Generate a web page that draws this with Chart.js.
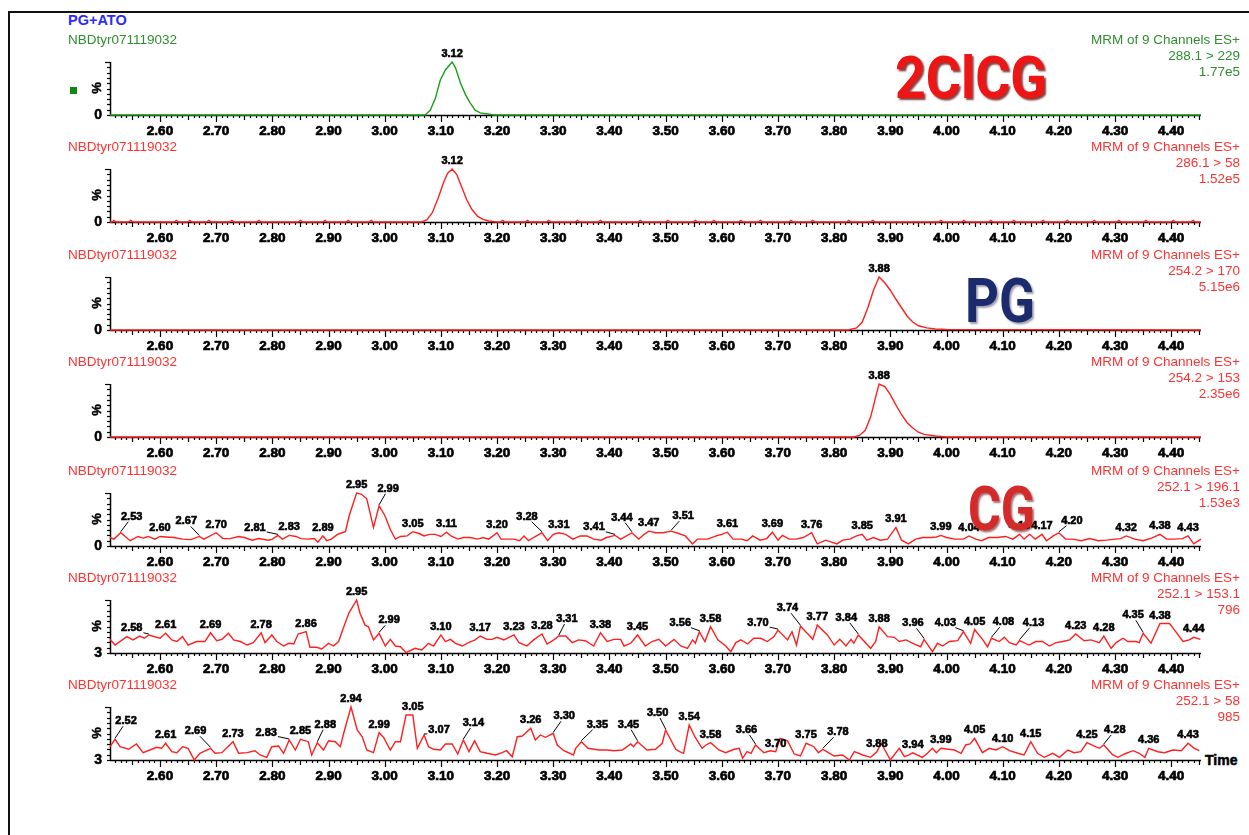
<!DOCTYPE html>
<html>
<head>
<meta charset="utf-8">
<title>PG+ATO MRM chromatograms</title>
<script src="https://cdn.jsdelivr.net/npm/chart.js@4.4.1/dist/chart.umd.min.js"></script>
<style>
  html,body{margin:0;padding:0;background:#fff;}
  #page{position:relative;width:1249px;height:835px;overflow:hidden;background:#fff;font-family:"Liberation Sans",Arial,sans-serif;}
  #frame{position:absolute;left:8px;top:11px;width:1300px;height:900px;border-left:2px solid #111;border-top:2px solid #111;}
  canvas.panel{position:absolute;left:0;}
  .txt{position:absolute;white-space:nowrap;font-size:13.5px;line-height:16px;z-index:5;}
  .rt{text-align:right;right:9px;}
  .big{position:absolute;font-family:Roboto,"Open Sans",sans-serif;font-weight:700;white-space:nowrap;line-height:1;transform-origin:left top;z-index:6;}
  #marker{position:absolute;left:70px;top:87px;width:7px;height:7px;background:#0f8a10;}
  #timeLbl{position:absolute;left:1205px;top:752px;font-family:"Liberation Sans",Arial,sans-serif;font-weight:bold;font-size:14px;line-height:16px;-webkit-text-stroke:0.5px #000;}
</style>
</head>
<body>
<div id="page">
  <div id="frame"></div>
  <div id="marker"></div>
  <div id="timeLbl">Time</div>
</div>
<script>
// ---- axis range and tick labels (retention time, min) ----
const axisMin = 2.511, axisMax = 4.453;
const tickValues = [2.6, 2.7, 2.8, 2.9, 3.0, 3.1, 3.2, 3.3, 3.4, 3.5, 3.6, 3.7, 3.8, 3.9, 4.0, 4.1, 4.2, 4.3, 4.4];

// ---- channel header texts ----
const sampleName = 'NBDtyr071119032';
const transitions = ['288.1 > 229', '286.1 > 58', '254.2 > 170', '254.2 > 153', '252.1 > 196.1', '252.1 > 153.1', '252.1 > 58'];
const intensities = ['1.77e5', '1.52e5', '5.15e6', '2.35e6', '1.53e3', '796', '985'];
const baseLabels = ['0', '0', '0', '0', '0', '3', '3'];
const yMins = [0, 0, 0, 0, 0, 3, 3];

// ---- trace 1 : 288.1 > 229 ----
const time1 = [2.511, 3.060, 3.072, 3.081, 3.090, 3.099, 3.108, 3.120, 3.126, 3.135, 3.144, 3.152, 3.161, 3.170, 3.183, 3.195, 4.453];
const inten1 = [0, 0, 0, 9, 31, 66, 85, 100, 89, 60, 38, 23, 9, 4, 2, 0, 0];
const peaks1 = ['3.12'];

// ---- trace 2 : 286.1 > 58 (main peak plus small baseline spikes) ----
const time2 = [
  2.511, 2.514, 2.518, 2.522, 2.544, 2.548, 2.552, 2.625, 2.629, 2.633,
  2.649, 2.653, 2.657, 2.683, 2.687, 2.691, 2.724, 2.728, 2.732, 2.772,
  2.776, 2.780, 2.846, 2.850, 2.854, 2.890, 2.894, 2.898, 2.931, 2.935,
  2.939, 2.972, 2.976, 2.980,
  3.065, 3.075, 3.085, 3.095, 3.105, 3.112, 3.120, 3.128, 3.137, 3.146,
  3.155, 3.165, 3.175, 3.185, 3.200,
  3.206, 3.210, 3.214, 3.250, 3.254, 3.258, 3.288, 3.292, 3.296, 3.339,
  3.343, 3.347, 3.380, 3.384, 3.388, 3.451, 3.455, 3.459, 3.500, 3.504,
  3.508, 3.549, 3.553, 3.557, 3.582, 3.586, 3.590, 3.630, 3.634, 3.638,
  3.665, 3.669, 3.673, 3.719, 3.723, 3.727, 3.758, 3.762, 3.766, 3.822,
  3.826, 3.830, 3.865, 3.869, 3.873, 3.986, 3.990, 3.994, 4.027, 4.031,
  4.035, 4.075, 4.079, 4.083, 4.116, 4.120, 4.124, 4.168, 4.172, 4.176,
  4.211, 4.215, 4.219, 4.259, 4.263, 4.267, 4.303, 4.307, 4.311, 4.351,
  4.355, 4.359, 4.400, 4.404, 4.408, 4.435, 4.439, 4.443, 4.453];
const inten2 = [
  0, 0, 3, 0, 0, 3, 0, 0, 3, 0,
  0, 3, 0, 0, 3, 0, 0, 3, 0, 0,
  3, 0, 0, 3, 0, 0, 3, 0, 0, 3,
  0, 0, 3, 0,
  0, 4, 18, 45, 75, 92, 100, 90, 66, 42,
  24, 11, 5, 2, 0,
  0, 3, 0, 0, 3, 0, 0, 3, 0, 0,
  3, 0, 0, 3, 0, 0, 3, 0, 0, 3,
  0, 0, 3, 0, 0, 3, 0, 0, 3, 0,
  0, 3, 0, 0, 3, 0, 0, 3, 0, 0,
  3, 0, 0, 3, 0, 0, 3, 0, 0, 3,
  0, 0, 3, 0, 0, 3, 0, 0, 3, 0,
  0, 3, 0, 0, 3, 0, 0, 3, 0, 0,
  3, 0, 0, 3, 0, 0, 3, 0, 0];
const peaks2 = ['3.12'];

// ---- trace 3 : 254.2 > 170 ----
const time3 = [2.511, 3.825, 3.840, 3.850, 3.860, 3.870, 3.880, 3.890, 3.900, 3.910, 3.920, 3.930, 3.940, 3.950, 3.965, 3.980, 4.000, 4.453];
const inten3 = [0, 0, 4, 15, 42, 75, 100, 89, 75, 58, 42, 26, 15, 8, 4, 2, 1, 0];
const peaks3 = ['3.88'];

// ---- trace 4 : 254.2 > 153 ----
const time4 = [2.511, 3.835, 3.845, 3.855, 3.865, 3.875, 3.880, 3.890, 3.900, 3.910, 3.920, 3.930, 3.940, 3.950, 3.960, 3.980, 4.000, 4.453];
const inten4 = [0, 0, 3, 12, 38, 80, 100, 95, 80, 60, 42, 27, 17, 9, 5, 2, 0, 0];
const peaks4 = ['3.88'];

// ---- trace 5 : 252.1 > 196.1 ----
const time5 = [
  2.511, 2.518, 2.530, 2.547, 2.561, 2.570, 2.579, 2.591, 2.600, 2.612,
  2.625, 2.640, 2.655, 2.670, 2.678, 2.700, 2.712, 2.725, 2.740, 2.750,
  2.764, 2.776, 2.793, 2.800, 2.810, 2.818, 2.830, 2.842, 2.851, 2.863,
  2.875, 2.881, 2.890, 2.897, 2.905, 2.916, 2.924, 2.930, 2.937, 2.950,
  2.958, 2.968, 2.980, 2.990, 3.000, 3.010, 3.019, 3.028, 3.040, 3.050,
  3.060, 3.070, 3.080, 3.090, 3.100, 3.110, 3.118, 3.130, 3.140, 3.152,
  3.165, 3.175, 3.185, 3.200, 3.207, 3.215, 3.230, 3.240, 3.248, 3.256,
  3.265, 3.280, 3.290, 3.300, 3.310, 3.322, 3.335, 3.348, 3.360, 3.372,
  3.385, 3.395, 3.410, 3.420, 3.432, 3.440, 3.452, 3.462, 3.470, 3.482,
  3.495, 3.510, 3.522, 3.535, 3.548, 3.557, 3.575, 3.590, 3.600, 3.610,
  3.620, 3.635, 3.645, 3.655, 3.668, 3.680, 3.690, 3.700, 3.708, 3.720,
  3.732, 3.745, 3.760, 3.770, 3.785, 3.805, 3.815, 3.828, 3.840, 3.850,
  3.858, 3.870, 3.882, 3.895, 3.910, 3.920, 3.932, 3.945, 3.958, 3.972,
  3.982, 3.990, 4.000, 4.015, 4.030, 4.040, 4.052, 4.062, 4.075, 4.090,
  4.105, 4.118, 4.130, 4.138, 4.148, 4.158, 4.170, 4.178, 4.190, 4.200,
  4.212, 4.225, 4.240, 4.255, 4.270, 4.285, 4.300, 4.310, 4.320, 4.335,
  4.350, 4.365, 4.380, 4.392, 4.405, 4.420, 4.430, 4.440, 4.453];
const inten5 = [
  16, 13, 25, 10, 18, 15, 18, 13, 18, 17,
  16, 13, 12, 18, 13, 25, 14, 14, 18, 16,
  11, 14, 11, 13, 20, 13, 20, 18, 14, 13,
  14, 7, 19, 10, 13, 22, 25, 27, 58, 100,
  98, 89, 35, 76, 58, 31, 13, 18, 19, 27,
  24, 19, 22, 22, 18, 26, 19, 13, 16, 16,
  13, 16, 13, 25, 13, 13, 13, 10, 19, 10,
  16, 25, 10, 22, 25, 22, 13, 19, 19, 13,
  11, 16, 20, 13, 20, 25, 13, 22, 28, 25,
  25, 28, 24, 19, 4, 13, 13, 19, 22, 26,
  13, 13, 10, 19, 11, 14, 26, 11, 20, 13,
  13, 16, 25, 4, 11, 4, 11, 13, 19, 22,
  11, 16, 11, 13, 35, 11, 4, 13, 16, 16,
  17, 20, 16, 13, 13, 19, 13, 10, 16, 16,
  18, 13, 22, 13, 22, 13, 22, 10, 19, 25,
  13, 13, 10, 14, 10, 11, 13, 14, 19, 13,
  10, 15, 22, 13, 13, 14, 19, 4, 13];
const peaks5 = ['2.53', '2.60', '2.67', '2.70', '2.81', '2.83', '2.89', '2.95', '2.99', '3.05', '3.11', '3.20', '3.28', '3.31',
  '3.41', '3.44', '3.47', '3.51', '3.61', '3.69', '3.76', '3.85', '3.91', '3.99', '4.04', '4.13', '4.17', '4.20', '4.32', '4.38', '4.43'];

// ---- trace 6 : 252.1 > 153.1 ----
const time6 = [
  2.511, 2.520, 2.541, 2.552, 2.564, 2.572, 2.580, 2.600, 2.610, 2.621,
  2.630, 2.640, 2.650, 2.665, 2.680, 2.690, 2.701, 2.710, 2.722, 2.731,
  2.743, 2.755, 2.766, 2.780, 2.787, 2.799, 2.808, 2.820, 2.829, 2.838,
  2.846, 2.860, 2.867, 2.879, 2.888, 2.900, 2.909, 2.918, 2.924, 2.936,
  2.950, 2.956, 2.965, 2.971, 2.980, 2.990, 3.001, 3.010, 3.019, 3.028,
  3.038, 3.054, 3.066, 3.078, 3.087, 3.100, 3.108, 3.117, 3.126, 3.138,
  3.149, 3.161, 3.170, 3.182, 3.191, 3.200, 3.212, 3.230, 3.239, 3.253,
  3.265, 3.280, 3.289, 3.301, 3.310, 3.322, 3.334, 3.345, 3.357, 3.372,
  3.384, 3.396, 3.408, 3.420, 3.426, 3.438, 3.450, 3.464, 3.476, 3.488,
  3.500, 3.515, 3.527, 3.539, 3.548, 3.553, 3.560, 3.570, 3.580, 3.593,
  3.607, 3.616, 3.625, 3.634, 3.646, 3.657, 3.669, 3.681, 3.693, 3.700,
  3.717, 3.725, 3.733, 3.740, 3.755, 3.762, 3.770, 3.788, 3.800, 3.810,
  3.821, 3.830, 3.835, 3.843, 3.865, 3.874, 3.880, 3.895, 3.907, 3.916,
  3.928, 3.940, 3.954, 3.960, 3.975, 3.984, 3.993, 4.005, 4.020, 4.030,
  4.043, 4.050, 4.064, 4.073, 4.080, 4.094, 4.103, 4.112, 4.124, 4.130,
  4.147, 4.159, 4.171, 4.183, 4.195, 4.207, 4.219, 4.230, 4.245, 4.257,
  4.272, 4.280, 4.293, 4.302, 4.314, 4.323, 4.337, 4.343, 4.350, 4.364,
  4.380, 4.397, 4.406, 4.421, 4.432, 4.440, 4.452];
const inten6 = [
  28, 17.6, 33, 27, 34, 30, 36, 30, 39, 27,
  24, 33, 17.6, 24, 24, 40, 25.5, 28, 39, 27,
  24, 17.6, 22, 40, 22, 36, 24, 15.8, 20.8, 19.5,
  37.8, 42, 13.4, 13.4, 10.3, 20.8, 15.8, 24, 42, 75.7,
  100, 75.7, 54, 51, 27, 39, 15.8, 28, 15.8, 14.5,
  3.5, 11.6, 8.5, 20.8, 15.8, 36, 24, 28, 20.8, 15.8,
  22, 27, 34, 28, 28, 31.7, 27, 36, 22, 15.8,
  27, 37.8, 19.5, 27, 34, 34, 22, 27, 25.5, 15.8,
  40, 24, 28, 28, 15.8, 20.8, 36, 15.8, 24, 28,
  15.8, 28, 15.8, 11.6, 27, 20.8, 42, 24, 51, 27,
  15.8, 5.4, 22, 27, 19.5, 30, 30, 24, 33, 45,
  27, 42, 17.6, 52, 36, 28, 54, 36, 17.6, 28,
  15.8, 28, 20.8, 36, 11.6, 24, 51, 33, 31.7, 24,
  27, 20.8, 14.5, 28, 5.4, 20.8, 15.8, 24, 25.5, 42,
  20.8, 46, 28, 14.5, 30, 24, 31.7, 22, 17.6, 25.5,
  17.6, 24, 24, 15.8, 22, 24, 27, 37.8, 25.5, 27,
  22, 34, 11.6, 22, 30, 24, 24, 22, 39, 20.8,
  57, 57, 45, 24, 27, 31.7, 28];
const peaks6 = ['2.58', '2.61', '2.69', '2.78', '2.86', '2.95', '2.99', '3.10', '3.17', '3.23', '3.28', '3.31', '3.38', '3.45',
  '3.56', '3.58', '3.70', '3.74', '3.77', '3.84', '3.88', '3.96', '4.03', '4.05', '4.08', '4.13', '4.23', '4.28', '4.35', '4.38', '4.44'];

// ---- trace 7 : 252.1 > 58 ----
const time7 = [
  2.511, 2.520, 2.529, 2.544, 2.558, 2.570, 2.582, 2.594, 2.603, 2.610,
  2.621, 2.630, 2.640, 2.650, 2.661, 2.671, 2.690, 2.698, 2.710, 2.730,
  2.740, 2.755, 2.769, 2.778, 2.790, 2.799, 2.811, 2.820, 2.830, 2.841,
  2.850, 2.864, 2.870, 2.880, 2.891, 2.900, 2.912, 2.921, 2.927, 2.940,
  2.951, 2.960, 2.968, 2.980, 2.990, 2.998, 3.010, 3.019, 3.028, 3.038,
  3.050, 3.058, 3.070, 3.078, 3.087, 3.099, 3.108, 3.120, 3.130, 3.140,
  3.150, 3.160, 3.170, 3.182, 3.197, 3.209, 3.217, 3.227, 3.236, 3.245,
  3.260, 3.268, 3.277, 3.286, 3.300, 3.307, 3.319, 3.336, 3.340, 3.350,
  3.362, 3.381, 3.396, 3.408, 3.423, 3.438, 3.443, 3.450, 3.467, 3.482,
  3.494, 3.500, 3.518, 3.525, 3.532, 3.542, 3.552, 3.565, 3.572, 3.580,
  3.595, 3.607, 3.622, 3.631, 3.637, 3.645, 3.652, 3.660, 3.675, 3.686,
  3.696, 3.704, 3.717, 3.729, 3.740, 3.750, 3.764, 3.772, 3.780, 3.800,
  3.815, 3.827, 3.836, 3.851, 3.865, 3.876, 3.884, 3.900, 3.916, 3.925,
  3.933, 3.940, 3.957, 3.966, 3.975, 3.982, 3.990, 4.014, 4.026, 4.034,
  4.042, 4.050, 4.064, 4.076, 4.088, 4.100, 4.112, 4.127, 4.138, 4.150,
  4.162, 4.174, 4.189, 4.201, 4.216, 4.227, 4.239, 4.250, 4.263, 4.272,
  4.280, 4.296, 4.305, 4.317, 4.332, 4.343, 4.353, 4.360, 4.376, 4.388,
  4.403, 4.418, 4.430, 4.441, 4.450];
const inten7 = [
  27.3, 40.9, 27.3, 22.6, 32.3, 16.4, 21.3, 26.2, 24.4, 33.6,
  18.2, 16.4, 27.3, 24.4, 3, 15.3, 24.4, 15.3, 16.4, 36.5,
  15.3, 16.4, 20, 12.2, 7.9, 27.3, 28.6, 15.3, 39.6, 21.3,
  40.9, 36.5, 12.2, 34.7, 21.3, 38, 36.5, 27.3, 51.9, 100,
  57.9, 45.6, 21.3, 16.4, 53, 44.5, 21.3, 36.5, 36.5, 85.4,
  85.4, 24.4, 48.8, 27.3, 22.6, 21.3, 32.3, 32.3, 14, 39.6,
  18.2, 38, 18.2, 15.3, 12.2, 16.4, 20, 9, 45.6, 46.9,
  61, 39.6, 48.8, 44.5, 51.9, 30.5, 20, 12.2, 24.4, 36.5,
  24.4, 21.3, 21.3, 20, 21.3, 32.3, 27.3, 36.5, 21.3, 22.6,
  33.6, 57.9, 22.6, 18.2, 15.3, 67, 45.6, 24.4, 30.5, 34.7,
  21.3, 16.4, 22.6, 24.4, 6.1, 18.2, 15.3, 30.5, 16.4, 20,
  18.2, 42.7, 38, 14, 10.3, 33.6, 27.3, 16.4, 22.6, 10.3,
  12.2, 3, 18.2, 12.2, 7.9, 18.2, 33.6, 3, 24.4, 9,
  12.2, 16, 7.9, 15.3, 24.4, 16.4, 24.4, 21.3, 15.3, 30.5,
  32.3, 42.7, 16.4, 24.4, 21.3, 27.3, 20, 15.3, 12.2, 36.5,
  15.3, 7.9, 15.3, 7.9, 21.3, 16.4, 18.2, 34.7, 28.6, 24.4,
  30.5, 12.2, 7.9, 14, 20, 15.3, 7.9, 24.4, 18.2, 16.4,
  21.3, 20, 33.6, 24.4, 20];
const peaks7 = ['2.52', '2.61', '2.69', '2.73', '2.83', '2.85', '2.88', '2.94', '2.99', '3.05', '3.07', '3.14', '3.26', '3.30',
  '3.35', '3.45', '3.50', '3.54', '3.58', '3.66', '3.70', '3.75', '3.78', '3.88', '3.94', '3.99', '4.05', '4.10', '4.15',
  '4.25', '4.28', '4.36', '4.43'];

// ---- label placement: offsets (px) of labels that sit away from their peak, joined by a leader line ----
const leaderLayout = [
  {}, {}, {}, {},
  {'2.53': [11, -16], '2.67': [-13, -15], '2.81': [-23, -7], '2.99': [9, -17], '3.28': [-15, -16], '3.41': [-21, -8],
   '3.44': [-10, -15], '3.51': [12, -15], '4.20': [13, -12]},
  {'2.58': [-17, -7], '2.99': [10, -13], '3.31': [8, -17], '3.56': [-19, -9], '3.70': [-20, -7], '3.74': [-13, -18],
   '3.84': [-12, -17], '3.96': [-11, -16], '4.03': [-18, -9], '4.08': [12, -16], '4.13': [14, -18], '4.35': [-10, -18]},
  {'2.52': [11, -18], '2.69': [-15, -17], '2.83': [-23, -7], '2.88': [8, -18], '3.07': [15, -5], '3.14': [10, -17],
   '3.30': [11, -17], '3.35': [16, -17], '3.45': [-9, -17], '3.50': [-8, -17], '3.66': [-9, -15], '3.78': [15, -17],
   '4.28': [11, -15]}
];

// ---- panel geometry and colours ----
const baselines = [115, 222, 330, 437, 546, 653, 760];
const plotHeight = 53;
const lineColors = ['#18a018', '#ff1f1f', '#ff1f1f', '#ff1f1f', '#ff1f1f', '#ff1f1f', '#ff1f1f'];
const textColors = ['#2f8f2f', '#ff3333', '#ff3333', '#ff3333', '#ff3333', '#ff3333', '#ff3333'];

const traces = [
  [time1, inten1, peaks1], [time2, inten2, peaks2], [time3, inten3, peaks3], [time4, inten4, peaks4],
  [time5, inten5, peaks5], [time6, inten6, peaks6], [time7, inten7, peaks7]
];

const FAMILY = '"Liberation Sans", Arial, sans-serif';
const LABEL_FONT = 'bold 11px ' + FAMILY;
const BASE_FONT = 'bold 14px ' + FAMILY;

// axes, ticks and peak annotations drawn in the MassLynx style
const chromPlugin = {
  id: 'chrom',
  beforeDatasetsDraw(chart) {
    const {ctx, chartArea: a, scales: {x}} = chart;
    const o = chart.options.plugins.chrom;
    ctx.save();
    ctx.strokeStyle = '#000';
    ctx.fillStyle = '#000';
    // time axis
    ctx.lineWidth = 1.5;
    ctx.beginPath();
    ctx.moveTo(a.left, a.bottom + 0.5);
    ctx.lineTo(x.getPixelForValue(axisMax), a.bottom + 0.5);
    ctx.stroke();
    ctx.lineWidth = 1.2;
    for (let i = Math.ceil(axisMin * 100); i <= Math.floor(axisMax * 100); i++) {
      const px = Math.round(x.getPixelForValue(i / 100)) + 0.5;
      const len = i % 10 === 0 ? 7 : (i % 5 === 0 ? 5 : 3);
      ctx.beginPath();
      ctx.moveTo(px, a.bottom);
      ctx.lineTo(px, a.bottom + len);
      ctx.stroke();
    }
    // intensity axis
    ctx.lineWidth = 1.5;
    ctx.beginPath();
    ctx.moveTo(a.left + 0.5, a.top);
    ctx.lineTo(a.left + 0.5, a.bottom);
    ctx.stroke();
    ctx.lineWidth = 1.2;
    for (let k = 0; k <= 10; k++) {
      const py = Math.round(a.top + (a.bottom - a.top) * k / 10) + 0.5;
      const len = k === 0 ? 5 : 3;
      ctx.beginPath();
      ctx.moveTo(a.left - len, py);
      ctx.lineTo(a.left, py);
      ctx.stroke();
    }
    ctx.font = 'bold 13px ' + FAMILY;
    ctx.lineWidth = 0.5;
    ctx.save();
    ctx.translate(a.left - 13, a.top + 26);
    ctx.rotate(-Math.PI / 2);
    ctx.textAlign = 'center';
    ctx.textBaseline = 'middle';
    ctx.fillText('%', 0, 0);
    ctx.strokeText('%', 0, 0);
    ctx.restore();
    ctx.font = BASE_FONT;
    ctx.textAlign = 'right';
    ctx.textBaseline = 'middle';
    ctx.fillText(o.baseLabel, a.left - 8, a.bottom);
    ctx.strokeText(o.baseLabel, a.left - 8, a.bottom);
    ctx.restore();
  },
  afterDatasetsDraw(chart) {
    const {ctx} = chart;
    const o = chart.options.plugins.chrom;
    const meta = chart.getDatasetMeta(0);
    const times = o.times;
    ctx.save();
    ctx.font = LABEL_FONT;
    ctx.fillStyle = '#000';
    ctx.strokeStyle = '#000';
    ctx.textAlign = 'center';
    ctx.textBaseline = 'middle';
    o.peaks.forEach(lbl => {
      const t = parseFloat(lbl);
      let idx = 0, best = Infinity;
      times.forEach((tt, i) => { const d = Math.abs(tt - t); if (d < best) { best = d; idx = i; } });
      const pt = meta.data[idx];
      const off = o.leaders[lbl];
      const dx = off ? off[0] : 0, dy = off ? off[1] : -8;
      const lx = pt.x + dx, ly = pt.y + dy;
      if (off) {
        const hw = ctx.measureText(lbl).width / 2 + 1, hh = 5;
        const s = Math.min(dx !== 0 ? hw / Math.abs(dx) : Infinity, dy !== 0 ? hh / Math.abs(dy) : Infinity);
        const ex = lx - dx * s, ey = ly - dy * s;
        ctx.lineWidth = 1;
        ctx.beginPath();
        ctx.moveTo(pt.x, pt.y - 1);
        ctx.lineTo(ex, ey);
        ctx.stroke();
      }
      ctx.lineWidth = 0.6;
      ctx.fillText(lbl, lx, ly);
      ctx.strokeText(lbl, lx, ly);
    });
    ctx.restore();
  }
};

const page = document.getElementById('page');

function addText(cls, text, css) {
  const d = document.createElement('div');
  d.className = cls;
  d.textContent = text;
  Object.assign(d.style, css);
  page.appendChild(d);
  return d;
}

// sample title
addText('txt', 'PG+ATO', {left: '68px', top: '12px', color: '#2b2bff', fontWeight: 'bold', fontSize: '14.5px'});

traces.forEach(([times, inten, peaks], p) => {
  const base = baselines[p];
  const head = base - 83;
  addText('txt', sampleName, {left: '68px', top: head + 'px', color: textColors[p]});
  addText('txt rt', 'MRM of 9 Channels ES+', {top: head + 'px', color: textColors[p]});
  addText('txt rt', transitions[p], {top: (head + 16) + 'px', color: textColors[p]});
  addText('txt rt', intensities[p], {top: (head + 32) + 'px', color: textColors[p]});

  const cv = document.createElement('canvas');
  cv.className = 'panel';
  cv.width = 1249; cv.height = 100;
  cv.style.width = '1249px'; cv.style.height = '100px';
  cv.style.top = (base - 76) + 'px';
  page.appendChild(cv);

  new Chart(cv, {
    type: 'line',
    data: {
      datasets: [{
        data: times.map((t, i) => ({x: t, y: inten[i]})),
        borderColor: lineColors[p],
        borderWidth: 1.4,
        pointRadius: 0,
        tension: 0,
        fill: false,
        clip: false
      }]
    },
    options: {
      responsive: false,
      animation: false,
      events: [],
      layout: {padding: {left: 110, right: 48, top: 100 - 24 - plotHeight, bottom: 0}},
      plugins: {
        legend: {display: false},
        tooltip: {enabled: false},
        chrom: {baseLabel: baseLabels[p], peaks: peaks, times: times, leaders: leaderLayout[p]}
      },
      scales: {
        x: {
          type: 'linear', min: axisMin, max: axisMax,
          afterBuildTicks: s => { s.ticks = tickValues.map(v => ({value: v})); },
          afterFit: s => { s.height = 24; },
          grid: {display: false, drawTicks: false},
          border: {display: false},
          ticks: {
            autoSkip: false, maxRotation: 0, minRotation: 0, padding: 8, color: '#000',
            textStrokeColor: '#000', textStrokeWidth: 0.7,
            font: {family: FAMILY, weight: 'bold', size: 13.5},
            callback: v => Number(v).toFixed(2)
          }
        },
        y: {display: false, min: yMins[p], max: 100}
      }
    },
    plugins: [chromPlugin]
  });
});

// compound names set over the traces
function bigLabel(text, left, top, size, width, color, shadow) {
  const d = addText('big', text, {left: left + 'px', top: top + 'px', fontSize: size + 'px', color: color, textShadow: shadow});
  const w = d.getBoundingClientRect().width;
  d.style.transform = 'scaleX(' + (width / w) + ')';
}
bigLabel('2ClCG', 895, 48, 60, 152, '#ee1515', '2px 2px 2px rgba(90,0,0,0.75)');
bigLabel('PG', 965, 271, 61, 70, '#1c2b6e', '2px 2px 2px rgba(120,120,140,0.7)');
bigLabel('CG', 968, 478, 62, 67, '#d42a2a', '2px 2px 2px rgba(110,20,20,0.6)');
</script>
</body>
</html>
